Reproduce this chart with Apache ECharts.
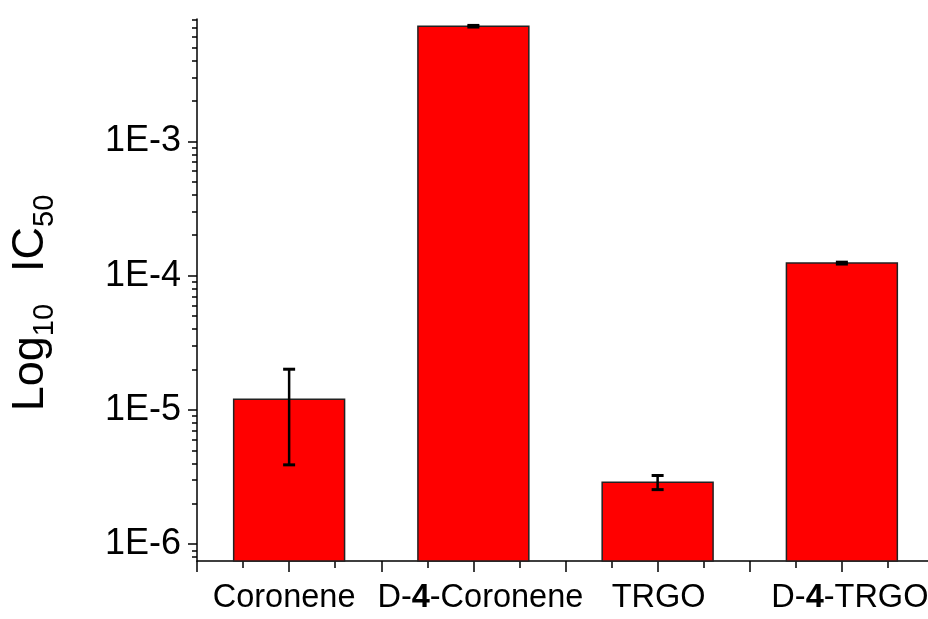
<!DOCTYPE html>
<html>
<head>
<meta charset="utf-8">
<script src="https://cdn.jsdelivr.net/npm/echarts@6/dist/echarts.min.js"></script>
<style>
html,body{margin:0;padding:0;background:#fff;overflow:hidden;}
#chart{width:934px;height:619px;}
</style>
</head>
<body>
<div id="chart"></div>
<script>
// ---- data ----
const categories = ['Coronene', 'D-4-Coronene', 'TRGO', 'D-4-TRGO'];
const positions = [1, 2, 3, 4];
const ic50 = [1.2e-5, 7.2e-3, 2.9e-6, 1.24e-4];
const ic50Err = [8.1e-6, 1.0e-4, 3.5e-7, 2.0e-6];
const yTickValues = [1e-6, 1e-5, 1e-4, 1e-3];
const yTickLabels = ['1E-6', '1E-5', '1E-4', '1E-3'];
const yMin = 7.5e-7;
const yMax = 8.15e-3;

// label horizontal nudges (style only)
const labelShift = [-5, 7, 1, 8];

// minor log ticks (2..9 x each decade) within the axis range
const minorTicks = [];
for (let e = -7; e <= -3; e++) {
  for (let m = 2; m <= 9; m++) {
    const v = m * Math.pow(10, e);
    if (v > yMin && v < yMax) minorTicks.push(v);
  }
}

const barData = positions.map((p, i) => [p, ic50[i]]);
const errData = positions.map((p, i) => [p, ic50[i], ic50Err[i]]);

const FONT = 'Liberation Sans, Arial, Helvetica, sans-serif';
const halfBar = 0.301;

const chart = echarts.init(document.getElementById('chart'), null, {renderer: 'canvas'});

function catLabel(v) {
  if (Math.abs(v - Math.round(v)) > 1e-6) return '';
  const i = positions.indexOf(Math.round(v));
  if (i < 0) return '';
  let txt = categories[i].replace('-4-', '-{b|4}-');
  txt = txt.replace(/^([^{]*)/, '{t|$1}');
  txt = txt.replace(/\}-([^{]+)$/, '}{t|-$1}');
  const s = labelShift[i];
  if (s > 0) txt = '{g' + i + '| }' + txt;
  else if (s < 0) txt = txt + '{g' + i + '| }';
  return txt;
}

const XFS = 32.5;
const richX = {
  t: {fontSize: XFS, fontFamily: FONT, color: '#000'},
  b: {fontSize: XFS, fontFamily: FONT, color: '#000', fontWeight: 'bold'}
};
labelShift.forEach((s, i) => {
  richX['g' + i] = {width: Math.abs(s) * 2, fontSize: XFS};
});

const option = {
  animation: false,
  backgroundColor: '#fff',
  grid: {left: 196, top: 19, right: 0, height: 542, containLabel: false},
  xAxis: {
    type: 'value',
    min: 0.5,
    max: 4.5,
    interval: 0.5,
    axisLine: {show: true, onZero: false, lineStyle: {color: '#000', width: 1.5}},
    axisTick: {show: true, length: 11, lineStyle: {color: '#000', width: 1.5}},
    minorTick: {show: true, splitNumber: 2, length: 7, lineStyle: {color: '#000', width: 1.5}},
    splitLine: {show: false},
    minorSplitLine: {show: false},
    axisLabel: {
      margin: 21,
      formatter: catLabel,
      fontSize: XFS,
      fontFamily: FONT,
      color: '#000',
      showMaxLabel: false,
      rich: richX
    }
  },
  yAxis: [
    {
      type: 'log',
      logBase: 10,
      min: yMin,
      max: yMax,
      position: 'left',
      axisLine: {show: true, onZero: false, lineStyle: {color: '#000', width: 1.5}},
      axisTick: {show: true, length: 9, customValues: yTickValues, lineStyle: {color: '#000', width: 1.5}},
      splitLine: {show: false},
      axisLabel: {
        customValues: yTickValues,
        margin: 16,
        fontSize: 36,
        fontFamily: FONT,
        color: '#000',
        formatter: function (v) {
          for (let i = 0; i < yTickValues.length; i++) {
            if (Math.abs(Math.log10(v) - Math.log10(yTickValues[i])) < 1e-6) return yTickLabels[i];
          }
          return '';
        }
      },
      name: '{a|Log}{s|10}{i|IC}{s|50}',
      nameLocation: 'middle',
      nameRotate: 90,
      nameGap: 138,
      nameTextStyle: {
        color: '#000',
        fontFamily: FONT,
        padding: [0, 26, 0, 0],
        rich: {
          a: {fontSize: 45, fontFamily: FONT, color: '#000', verticalAlign: 'bottom', padding: [0, 0, 6, 0]},
          i: {fontSize: 45, fontFamily: FONT, color: '#000', verticalAlign: 'bottom', padding: [0, 0, 6, 32]},
          s: {fontSize: 29, fontFamily: FONT, color: '#000', verticalAlign: 'bottom'}
        }
      }
    },
    {
      type: 'log',
      logBase: 10,
      min: yMin,
      max: yMax,
      position: 'left',
      axisLine: {show: false},
      axisTick: {show: true, length: 5, customValues: minorTicks, lineStyle: {color: '#000', width: 1.5}},
      axisLabel: {show: false},
      splitLine: {show: false}
    }
  ],
  series: [
    {
      type: 'custom',
      name: 'IC50',
      data: barData,
      encode: {x: 0, y: 1},
      renderItem: function (params, api) {
        const x = api.value(0), y = api.value(1);
        const pl = api.coord([x - halfBar, y]);
        const pr = api.coord([x + halfBar, y]);
        const pb = api.coord([x, yMin]);
        return {
          type: 'rect',
          shape: {x: pl[0], y: pl[1], width: pr[0] - pl[0], height: pb[1] - pl[1]},
          style: {fill: '#ff0000', stroke: '#222', lineWidth: 1.5}
        };
      },
      z: 2
    },
    {
      type: 'custom',
      name: 'err',
      data: errData,
      encode: {x: 0, y: 1},
      renderItem: function (params, api) {
        const x = api.value(0), y = api.value(1), e = api.value(2);
        const hi = api.coord([x, y + e]);
        const lo = api.coord([x, y - e]);
        const cw = 6;
        return {
          type: 'group',
          children: [
            {type: 'line', shape: {x1: hi[0], y1: hi[1], x2: lo[0], y2: lo[1]}, style: {stroke: '#000', lineWidth: 2.5}},
            {type: 'line', shape: {x1: hi[0] - cw, y1: hi[1], x2: hi[0] + cw, y2: hi[1]}, style: {stroke: '#000', lineWidth: 3}},
            {type: 'line', shape: {x1: lo[0] - cw, y1: lo[1], x2: lo[0] + cw, y2: lo[1]}, style: {stroke: '#000', lineWidth: 3}}
          ]
        };
      },
      z: 3
    }
  ]
};
chart.setOption(option);
</script>
</body>
</html>
